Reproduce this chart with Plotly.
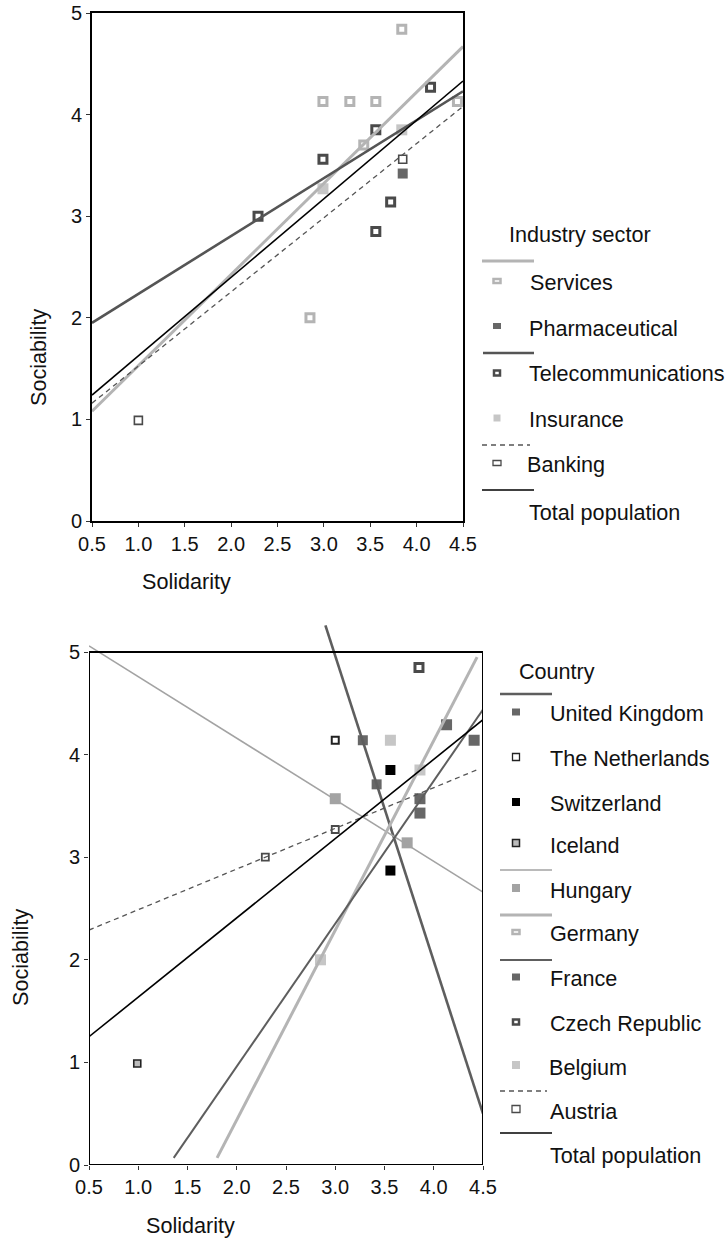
import plotly.graph_objects as go

# ---------------- Industry sector panel ----------------
services_x = [3.84, 2.99, 3.28, 3.56, 4.44, 3.43, 2.85]
services_y = [4.84, 4.13, 4.13, 4.13, 4.13, 3.70, 2.00]
pharma_x = [3.85]
pharma_y = [3.42]
telecom_x = [2.99, 3.56, 3.72, 3.56, 4.15, 2.29]
telecom_y = [3.56, 3.85, 3.14, 2.85, 4.27, 3.00]
insurance_x = [2.99, 3.84]
insurance_y = [3.27, 3.85]
banking_x = [3.85, 1.00]
banking_y = [3.56, 0.99]

# fitted lines (end points)
fit_x = [0.5, 4.5]
services_fit_y = [1.08, 4.67]
telecom_fit_y = [1.95, 4.23]
banking_fit_y = [1.16, 4.08]
total_fit_y = [1.24, 4.33]

# ---------------- Country panel ----------------
uk_x = [3.28, 3.42]
uk_y = [4.14, 3.71]
nl_x = [3.00]
nl_y = [4.14]
ch_x = [3.56, 3.56]
ch_y = [3.85, 2.87]
is_x = [0.99]
is_y = [0.99]
hu_x = [3.00, 3.73]
hu_y = [3.57, 3.14]
de_x = [2.85, 3.86]
de_y = [2.00, 3.85]
fr_x = [3.86, 3.86, 4.13, 4.41]
fr_y = [3.57, 3.43, 4.29, 4.14]
cz_x = [3.85]
cz_y = [4.85]
be_x = [3.56]
be_y = [4.14]
at_x = [3.00, 2.29]
at_y = [3.27, 3.00]

uk_fit_x, uk_fit_y = [2.90, 4.50], [5.26, 0.50]
hu_fit_x, hu_fit_y = [0.50, 4.50], [5.06, 2.66]
de_fit_x, de_fit_y = [1.80, 4.44], [0.07, 4.95]
fr_fit_x, fr_fit_y = [1.36, 4.50], [0.07, 4.44]
at_fit_x, at_fit_y = [0.50, 4.46], [2.29, 3.86]
tot2_fit_x, tot2_fit_y = [0.50, 4.50], [1.25, 4.34]

x_ticks = [0.5, 1.0, 1.5, 2.0, 2.5, 3.0, 3.5, 4.0, 4.5]
x_ticktext = ["0.5", "1.0", "1.5", "2.0", "2.5", "3.0", "3.5", "4.0", "4.5"]
y_ticks = [0, 1, 2, 3, 4, 5]

industry_labels = ["Services", "Pharmaceutical", "Telecommunications", "Insurance", "Banking", "Total population"]
country_labels = ["United Kingdom", "The Netherlands", "Switzerland", "Iceland", "Hungary",
                  "Germany", "France", "Czech Republic", "Belgium", "Austria", "Total population"]

W, H = 728, 1238
FONT = "Liberation Sans, Arial, Helvetica, sans-serif"
TXT = 21.6

LIGHT = "#b4b4b4"
LIGHT_FILL = "#c6c6c6"
MID = "#a3a3a3"
DARK = "#5a5a5a"
DARK_FILL = "#676767"


def px(x):
    return x / W


def py(y):
    return 1 - y / H


fig = go.Figure()


def points(x, y, ax, size, fill, edge, ew):
    xa, ya = ("x", "y") if ax == 1 else ("x2", "y2")
    fig.add_trace(go.Scatter(
        x=x, y=y, xaxis=xa, yaxis=ya, mode="markers", showlegend=False, hoverinfo="skip",
        marker=dict(symbol="square", size=size, color=fill, line=dict(color=edge, width=ew)),
    ))


def fit(x, y, ax, color, width, dash="solid"):
    xa, ya = ("x", "y") if ax == 1 else ("x2", "y2")
    fig.add_trace(go.Scatter(
        x=x, y=y, xaxis=xa, yaxis=ya, mode="lines", showlegend=False, hoverinfo="skip",
        line=dict(color=color, width=width, dash=dash),
    ))


# top panel marks
points(services_x, services_y, 1, 8, "white", LIGHT, 3)
points(pharma_x, pharma_y, 1, 10, DARK_FILL, DARK_FILL, 0)
points(telecom_x, telecom_y, 1, 8, "white", "#4a4a4a", 3)
points(insurance_x, insurance_y, 1, 11, LIGHT_FILL, LIGHT_FILL, 0)
points(banking_x, banking_y, 1, 8, "white", "#4a4a4a", 1.6)

fit(fit_x, services_fit_y, 1, LIGHT, 3)
fit(fit_x, telecom_fit_y, 1, "#555555", 2.6)
fit(fit_x, banking_fit_y, 1, "#555555", 1.3, "5px,4px")
fit(fit_x, total_fit_y, 1, "black", 1.6)

# bottom panel marks
points(uk_x, uk_y, 2, 10, DARK_FILL, DARK_FILL, 0)
points(nl_x, nl_y, 2, 7, "white", "#222222", 2)
points(ch_x, ch_y, 2, 10, "black", "black", 0)
points(is_x, is_y, 2, 7, "#bcbcbc", "#222222", 1.6)
points(hu_x, hu_y, 2, 11, MID, MID, 0)
points(de_x, de_y, 2, 11, LIGHT_FILL, LIGHT_FILL, 0)
points(fr_x, fr_y, 2, 11, DARK_FILL, DARK_FILL, 0)
points(cz_x, cz_y, 2, 8, "white", "#4a4a4a", 3)
points(be_x, be_y, 2, 11, LIGHT_FILL, LIGHT_FILL, 0)
points(at_x, at_y, 2, 7, "white", "#4a4a4a", 1.8)

fit(uk_fit_x, uk_fit_y, 2, "#5e5e5e", 2.6)
fit(hu_fit_x, hu_fit_y, 2, MID, 1.6)
fit(de_fit_x, de_fit_y, 2, LIGHT, 3)
fit(fr_fit_x, fr_fit_y, 2, "#5e5e5e", 2.0)
fit(at_fit_x, at_fit_y, 2, "#555555", 1.3, "5px,4px")
fit(tot2_fit_x, tot2_fit_y, 2, "black", 1.6)

# panel frame of the bottom chart (lines may run above it)
fig.add_shape(type="rect", xref="x2", yref="y2", x0=0.5, x1=4.5, y0=0, y1=5,
              line=dict(color="black", width=2), layer="above")

tickfont = dict(family=FONT, size=20, color="#111111")
axis_common = dict(showgrid=False, zeroline=False, ticks="outside", ticklen=4,
                   tickcolor="#333333", tickwidth=1, tickfont=tickfont, automargin=False,
                   fixedrange=True)

top_y0, top_y1 = 13, 521
bot_y5, bot_y0 = 652, 1165
unit = (bot_y0 - bot_y5) / 5.0
bot_top = bot_y5 - 0.3 * unit

fig.update_layout(
    width=W, height=H,
    margin=dict(l=0, r=0, t=0, b=0),
    paper_bgcolor="white", plot_bgcolor="rgba(0,0,0,0)",
    showlegend=False,
    xaxis=dict(domain=[px(92), px(463)], range=[0.5, 4.5], tickvals=x_ticks, ticktext=x_ticktext,
               showline=True, mirror=True, linecolor="black", linewidth=2, anchor="y", **axis_common),
    yaxis=dict(domain=[py(top_y1), py(top_y0)], range=[0, 5], tickvals=y_ticks,
               showline=True, mirror=True, linecolor="black", linewidth=2, anchor="x", **axis_common),
    xaxis2=dict(domain=[px(89), px(483)], range=[0.5, 4.5], tickvals=x_ticks, ticktext=x_ticktext,
                showline=False, anchor="y2", **axis_common),
    yaxis2=dict(domain=[py(bot_y0), py(bot_top)], range=[0, 5.3], tickvals=y_ticks,
                showline=False, anchor="x2", **axis_common),
)


def text(x, y, s, size=TXT, anchor="left", angle=0):
    fig.add_annotation(x=px(x), y=py(y), xref="paper", yref="paper", text=s, showarrow=False,
                       xanchor=anchor, yanchor="middle", textangle=angle,
                       font=dict(family=FONT, size=size, color="#111111"))


def leg_line(x0, x1, y, color, width, dash="solid"):
    fig.add_shape(type="line", xref="paper", yref="paper", x0=px(x0), x1=px(x1),
                  y0=py(y), y1=py(y), line=dict(color=color, width=width, dash=dash))


def leg_box(cx, cy, w, h, fill, edge, ew):
    fig.add_shape(type="rect", xref="paper", yref="paper",
                  x0=px(cx - w / 2), x1=px(cx + w / 2), y0=py(cy + h / 2), y1=py(cy - h / 2),
                  fillcolor=fill, line=dict(color=edge, width=ew))


# axis titles
text(186, 582, "Solidarity", anchor="center")
text(38, 358, "Sociability", anchor="center", angle=-90)
text(190, 1225, "Solidarity", anchor="center")
text(20, 958, "Sociability", anchor="center", angle=-90)

# legend: industry sector
text(507, 235, "Industry sector")
leg_line(482, 534, 261, LIGHT, 3)
leg_box(497, 281, 7, 4, "white", LIGHT, 2.5)
text(528, 283, industry_labels[0])
leg_box(497, 326, 8, 6, DARK_FILL, DARK_FILL, 0)
text(527, 328, industry_labels[1])
leg_line(483, 534, 353, "#555555", 2.6)
leg_box(497, 373, 6, 5, "white", "#4a4a4a", 2.5)
text(527, 374, industry_labels[2])
leg_box(497, 418, 7, 7, LIGHT_FILL, LIGHT_FILL, 0)
text(527, 420, industry_labels[3])
leg_line(482, 530, 445, "#555555", 1.3, "5px,4px")
leg_box(497, 463, 8, 5, "white", "#4a4a4a", 1.3)
text(525, 465, industry_labels[4])
leg_line(482, 534, 490, "black", 1.6)
text(527, 513, industry_labels[5])

# legend: country
text(517, 671, "Country")
leg_line(500, 552, 694, "#5e5e5e", 2.4)
leg_box(516, 712, 8, 7, DARK_FILL, DARK_FILL, 0)
text(548, 713, country_labels[0])
leg_box(516, 757, 7, 7, "white", "#222222", 1.3)
text(548, 758, country_labels[1])
leg_box(516, 802, 8, 8, "black", "black", 0)
text(548, 803, country_labels[2])
leg_box(516, 843, 7, 7, "#bcbcbc", "#222222", 1.5)
text(548, 845, country_labels[3])
leg_line(500, 552, 870, MID, 1.6)
leg_box(516, 888, 8, 8, MID, MID, 0)
text(548, 890, country_labels[4])
leg_line(500, 552, 915, LIGHT, 3)
leg_box(516, 932, 7, 4, "white", LIGHT, 2.5)
text(548, 934, country_labels[5])
leg_line(500, 552, 960, "#5e5e5e", 2.2)
leg_box(516, 977, 8, 7, DARK_FILL, DARK_FILL, 0)
text(548, 979, country_labels[6])
leg_box(516, 1022, 6, 5, "white", "#4a4a4a", 2.5)
text(548, 1023, country_labels[7])
leg_box(516, 1065, 8, 8, LIGHT_FILL, LIGHT_FILL, 0)
text(547, 1067, country_labels[8])
leg_line(500, 547, 1091, "#555555", 1.3, "5px,4px")
leg_box(516, 1109, 8, 7, "white", "#4a4a4a", 1.3)
text(548, 1111, country_labels[9])
leg_line(500, 552, 1133, "black", 1.6)
text(548, 1155, country_labels[10])

fig.write_html("out.html")
